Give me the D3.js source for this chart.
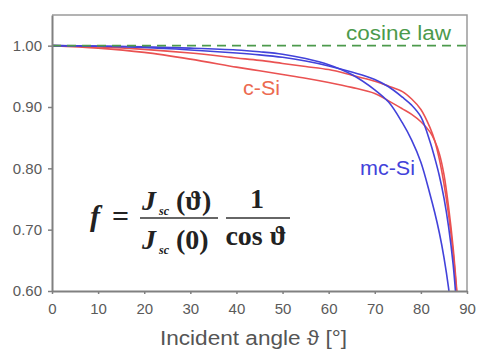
<!DOCTYPE html>
<html>
<head>
<meta charset="utf-8">
<script src="https://cdn.jsdelivr.net/npm/d3@7"></script>
<style>
  body { margin: 0; background: #fff; }
  svg { display: block; }
  .tick text { font-family: "Liberation Sans", Arial, sans-serif; font-size: 15px; fill: #5a5a5a; }
  .formula text { font-family: "Liberation Serif", "Times New Roman", serif; fill: #222; font-weight: bold; }
</style>
</head>
<body>
<script>

// incident angle grid (deg) shared by all measured curves
var angles = [0, 10, 20, 30, 40, 45, 50, 55, 60, 65, 70, 73, 76, 78, 80, 82, 83, 84, 85, 86, 87, 88];

// normalised response f
var mcSiA = [1.000, 0.9995, 0.998, 0.996, 0.993, 0.990, 0.986, 0.979, 0.969, 0.953, 0.928, 0.908, 0.874, 0.846, 0.810, 0.757, 0.728, 0.695, 0.655, 0.605, 0.535, 0.450];
var mcSiB = [1.000, 0.999, 0.997, 0.993, 0.988, 0.985, 0.981, 0.975, 0.967, 0.957, 0.945, 0.933, 0.916, 0.903, 0.884, 0.843, 0.817, 0.788, 0.752, 0.705, 0.643, 0.550];
var cSiA  = [1.000, 0.998, 0.994, 0.988, 0.980, 0.976, 0.971, 0.966, 0.961, 0.952, 0.942, 0.934, 0.925, 0.913, 0.896, 0.866, 0.845, 0.815, 0.775, 0.725, 0.662, 0.575];
var cSiB  = [1.000, 0.996, 0.989, 0.978, 0.965, 0.959, 0.953, 0.947, 0.940, 0.932, 0.922, 0.910, 0.897, 0.888, 0.876, 0.859, 0.845, 0.824, 0.790, 0.737, 0.670, 0.580];

var cosineAngles = [0, 90];
var cosineLaw = [1.0, 1.0];

var xTicks = [0, 10, 20, 30, 40, 50, 60, 70, 80, 90];
var yTicks = [0.6, 0.7, 0.8, 0.9, 1.0];

var width = 478, height = 351;
var margin = {top: 15, right: 11, bottom: 60, left: 52};
var w = width - margin.left - margin.right;
var h = height - margin.top - margin.bottom;

var svg = d3.select('body').append('svg')
  .attr('width', width)
  .attr('height', height);

svg.append('defs').append('clipPath').attr('id', 'plot')
  .append('rect').attr('width', w).attr('height', h);

var g = svg.append('g').attr('transform', 'translate(' + margin.left + ',' + margin.top + ')');

var x = d3.scaleLinear().domain([0, 90]).range([0, w]);
var y = d3.scaleLinear().domain([0.6, 1.05]).range([h, 0]);

// frame (top + right)
g.append('path')
  .attr('d', 'M0,0H' + w + 'V' + h)
  .attr('fill', 'none')
  .attr('stroke', '#9a9a9a')
  .attr('stroke-width', 1.5);

var line = d3.line()
  .x(function(d) { return x(d[0]); })
  .y(function(d) { return y(d[1]); })
  .curve(d3.curveCatmullRom.alpha(0.5));

var curves = g.append('g').attr('clip-path', 'url(#plot)');

function series(vals, color) {
  curves.append('path')
    .datum(angles.map(function(a, i) { return [a, vals[i]]; }))
    .attr('d', line)
    .attr('fill', 'none')
    .attr('stroke', color)
    .attr('stroke-width', 1.6);
}

series(cSiB, '#ea5252');
series(cSiA, '#ea5252');
series(mcSiB, '#4242da');
series(mcSiA, '#4242da');

curves.append('path')
  .datum(cosineAngles.map(function(a, i) { return [a, cosineLaw[i]]; }))
  .attr('d', d3.line().x(function(d) { return x(d[0]); }).y(function(d) { return y(d[1]); }))
  .attr('fill', 'none')
  .attr('stroke', '#4c9a4c')
  .attr('stroke-width', 1.6)
  .attr('stroke-dasharray', '9,6');

// axes
var xAxis = g.append('g')
  .attr('transform', 'translate(0,' + h + ')')
  .call(d3.axisBottom(x).tickValues(xTicks).tickSize(3).tickSizeOuter(0).tickPadding(9));

var yAxis = g.append('g')
  .call(d3.axisLeft(y).tickValues(yTicks).tickFormat(d3.format('.2f')).tickSize(4).tickSizeOuter(0).tickPadding(6));

[xAxis, yAxis].forEach(function(a) {
  a.select('.domain').attr('stroke', '#808080').attr('stroke-width', 2);
  a.selectAll('.tick line').attr('stroke', '#808080').attr('stroke-width', 1.5);
});

// axis title
svg.append('text')
  .attr('x', 160)
  .attr('y', 345)
  .attr('textLength', 187)
  .attr('lengthAdjust', 'spacingAndGlyphs')
  .style('font-family', '"Liberation Sans", Arial, sans-serif')
  .style('font-size', '20px')
  .style('fill', '#555')
  .text('Incident angle ϑ [°]');

// series labels
function label(txt, px, py, color, len) {
  svg.append('text')
    .attr('x', px).attr('y', py)
    .attr('textLength', len)
    .attr('lengthAdjust', 'spacingAndGlyphs')
    .style('font-family', '"Liberation Sans", Arial, sans-serif')
    .style('font-size', '20px')
    .style('fill', color)
    .text(txt);
}
label('cosine law', 346, 40, '#4c9a4c', 105);
label('c-Si', 243, 95, '#ec6a50', 37);
label('mc-Si', 360, 175, '#4242da', 55);

// formula f = Jsc(θ)/Jsc(0) * 1/cos θ
var f = svg.append('g').attr('class', 'formula');

function ft(txt, px, py, size, italic, anchor) {
  return f.append('text')
    .attr('x', px).attr('y', py)
    .attr('text-anchor', anchor || 'start')
    .style('font-size', size + 'px')
    .style('font-style', italic ? 'italic' : 'normal')
    .text(txt);
}

ft('f', 90, 226, 30, true);
ft('=', 112, 226, 30, false);

f.append('line').attr('x1', 140).attr('x2', 218).attr('y1', 218).attr('y2', 218)
  .attr('stroke', '#333').attr('stroke-width', 1.5);
f.append('line').attr('x1', 226).attr('x2', 290).attr('y1', 218).attr('y2', 218)
  .attr('stroke', '#333').attr('stroke-width', 1.5);

ft('J', 142, 210, 28, true);
ft('sc', 159, 215, 12, true);
ft('(ϑ)', 176, 210, 28, false);

ft('J', 142, 249, 28, true);
ft('sc', 159, 254, 12, true);
ft('(0)', 176, 249, 28, false);

ft('1', 257, 208, 28, false, 'middle');
ft('cos ϑ', 256, 245, 28, false, 'middle');

</script>
</body>
</html>
